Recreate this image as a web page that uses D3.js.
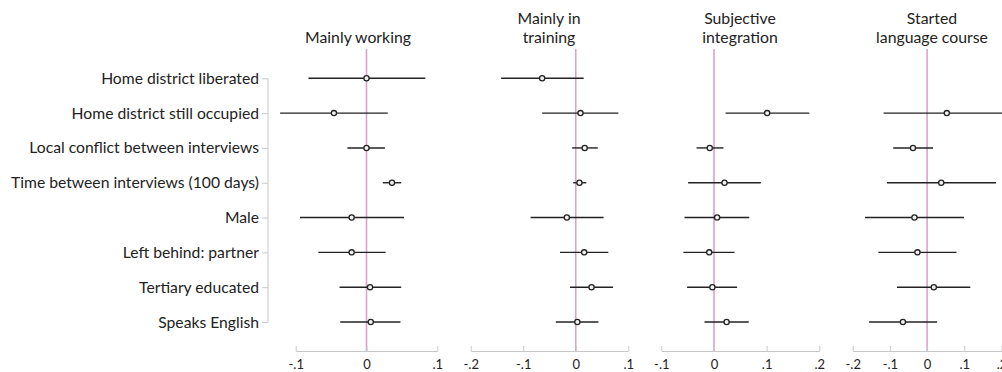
<!DOCTYPE html>
<html><head><meta charset="utf-8">
<script src="https://cdn.jsdelivr.net/npm/d3@7"></script>
<style>body{margin:0;background:#fff}svg{display:block}</style>
</head><body>
<script>
const categories = ["Home district liberated","Home district still occupied","Local conflict between interviews","Time between interviews (100 days)","Male","Left behind: partner","Tertiary educated","Speaks English"];
const panelTitles = [["Mainly working"],["Mainly in","training"],["Subjective","integration"],["Started","language course"]];
const tickValues = [[-0.1,0,0.1],[-0.2,-0.1,0,0.1],[-0.1,0,0.1,0.2],[-0.2,-0.1,0,0.1,0.2]];
const tickLabels = [["-.1","0",".1"],["-.2","-.1","0",".1"],["-.1","0",".1",".2"],["-.2","-.1","0",".1",".2"]];
// estimates [point, lower, upper]; null = not estimated
const working = [[0.000,-0.082,0.083],[-0.046,-0.122,0.030],[0.000,-0.027,0.026],[0.036,0.023,0.049],[-0.021,-0.094,0.053],[-0.021,-0.068,0.027],[0.005,-0.038,0.049],[0.006,-0.037,0.048]];
const training = [[-0.064,-0.142,0.015],[0.009,-0.064,0.081],[0.017,-0.007,0.042],[0.007,-0.005,0.020],[-0.017,-0.086,0.053],[0.016,-0.030,0.062],[0.030,-0.011,0.071],[0.003,-0.038,0.043]];
const integration = [null,[0.101,0.022,0.181],[-0.008,-0.033,0.018],[0.020,-0.049,0.089],[0.006,-0.056,0.067],[-0.009,-0.058,0.039],[-0.003,-0.051,0.044],[0.024,-0.018,0.066]];
const language = [null,[0.053,-0.117,0.215],[-0.038,-0.091,0.016],[0.038,-0.108,0.185],[-0.034,-0.167,0.099],[-0.026,-0.131,0.079],[0.018,-0.081,0.116],[-0.065,-0.156,0.027]];
const series = [working, training, integration, language];

// layout: pixel extent of each panel's outermost ticks, and title centres
const panelRanges = [[295.7,437.3],[470.7,628.3],[661.3,819.3],[852.7,1001.5]];
const titleX = [358, 549, 740, 932];
const W = 1002, H = 372;
const font = "Lato, sans-serif";

const svg = d3.select("body").append("svg").attr("width", W).attr("height", H)
  .style("font-family", font);

const y = d3.scalePoint().domain(categories).range([78.3, 322]);
const yTop = 49, yBottom = 351;

// left axis
const la = svg.append("g").attr("transform", "translate(268,0)")
  .call(d3.axisLeft(y).tickSize(6).tickPadding(3));
la.select(".domain").attr("stroke", "#c8c8c8").attr("d", `M-0,${y.range()[0]}H0V${y.range()[1]}H-0`);
la.selectAll(".tick line").attr("stroke", "#c8c8c8");
la.selectAll(".tick text").attr("fill", "#222").style("font-size", "15.7px").style("font-family", font);

series.forEach((data, i) => {
  const x = d3.scaleLinear().domain(d3.extent(tickValues[i])).range(panelRanges[i]);
  const g = svg.append("g");
  g.append("line").attr("x1", x(0)).attr("x2", x(0)).attr("y1", yTop).attr("y2", yBottom)
    .attr("stroke", "#dba3c9").attr("stroke-width", 1.6);
  const ax = g.append("g").attr("transform", `translate(0,${yBottom})`)
    .call(d3.axisBottom(x).tickValues(tickValues[i]).tickFormat((d, k) => tickLabels[i][k]).tickSize(-5).tickSizeOuter(0).tickPadding(9));
  ax.select(".domain").attr("stroke", "#c8c8c8");
  ax.selectAll(".tick line").attr("stroke", "#c8c8c8");
  ax.selectAll(".tick text").attr("fill", "#222").style("font-size", "13px").style("font-family", font);
  const lines = panelTitles[i];
  lines.forEach((ln, k) => {
    g.append("text").attr("text-anchor", "middle").attr("fill", "#222").style("font-size", "15.8px")
      .attr("x", titleX[i]).attr("y", 43 - (lines.length - 1 - k) * 19).text(ln);
  });
  const rows = data.map((d, k) => d ? {cat: categories[k], b: d[0], lo: d[1], hi: d[2]} : null).filter(d => d);
  g.selectAll("line.ci").data(rows).join("line").attr("class", "ci")
    .attr("x1", d => x(d.lo)).attr("x2", d => x(d.hi))
    .attr("y1", d => y(d.cat)).attr("y2", d => y(d.cat))
    .attr("stroke", "#222").attr("stroke-width", 1.4);
  g.selectAll("circle").data(rows).join("circle")
    .attr("cx", d => x(d.b)).attr("cy", d => y(d.cat)).attr("r", 2.6)
    .attr("fill", "#f2f2f2").attr("stroke", "#222").attr("stroke-width", 1.3);
});
</script>
</body></html>
